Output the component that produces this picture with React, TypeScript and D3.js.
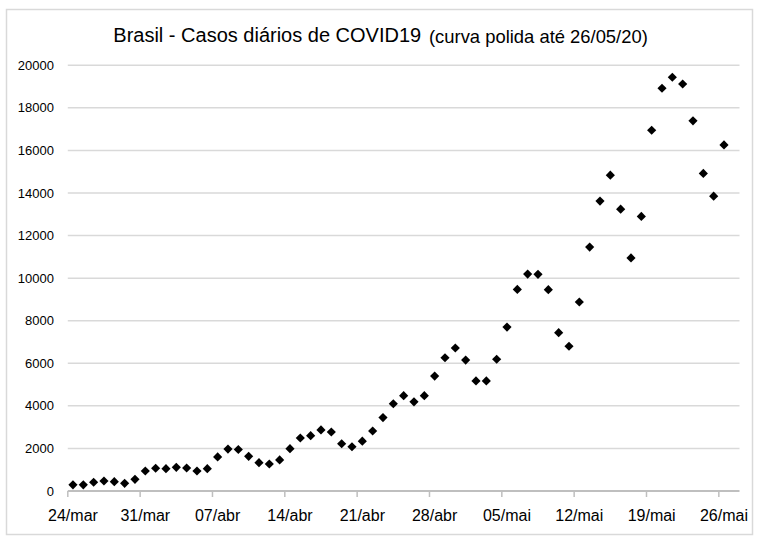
import React from "react";
import * as d3 from "d3";

const W = 761;
const H = 542;

// Daily new COVID19 cases in Brazil, 24/mar .. 26/mai (one value per day)
const startDate = new Date(2020, 2, 24);
const endDate = new Date(2020, 4, 28); // axis extends one empty day past 26/mai
const cases: number[] = [
  290, 290, 410, 470, 440, 360, 550,
  940, 1070, 1050, 1110, 1080, 940, 1050,
  1600, 1970, 1950, 1630, 1330, 1270, 1460,
  1990, 2490, 2600, 2870, 2770, 2220, 2080,
  2340, 2820, 3450, 4100, 4480, 4190, 4480,
  5400, 6260, 6720, 6150, 5170, 5170, 6190,
  7700, 9470, 10190, 10180, 9460, 7440, 6800,
  8880, 11460, 13620, 14840, 13240, 10950, 12900,
  16950, 18920, 19440, 19120, 17390, 14920, 13850,
  16260,
];
const xTickLabels = ["24/mar", "31/mar", "07/abr", "14/abr", "21/abr", "28/abr", "05/mai", "12/mai", "19/mai", "26/mai"];
const yTicks = [0, 2000, 4000, 6000, 8000, 10000, 12000, 14000, 16000, 18000, 20000];

export default function App() {
  const days = d3.timeDay.range(startDate, endDate);
  const x = d3
    .scaleBand<Date>()
    .domain(days)
    .range([67.8, 739.5])
    .paddingInner(0)
    .paddingOuter(0);
  const y = d3.scaleLinear().domain([0, 20000]).range([491, 65.3]);
  const bw = x.bandwidth();
  const diamond = d3.symbol().type(d3.symbolSquare).size(42)() as string;
  const tickDays = days.filter((_, i) => i % 7 === 0 && i < cases.length);

  return (
    <svg
      width={W}
      height={H}
      style={{ position: "absolute", left: 0, top: 0, background: "#fff" }}
      fontFamily="'Liberation Sans', Arial, sans-serif"
    >
      <rect x={0} y={0} width={W} height={H} fill="#fff" />
      <rect x={6.5} y={9.5} width={746} height={525} fill="#fff" stroke="#d9d9d9" strokeWidth={1.5} />
      <text x={113.3} y={42.3} fontSize={20} fill="#000">
        Brasil - Casos diários de COVID19
      </text>
      <text x={429} y={42.7} fontSize={18.4} fill="#000">
        (curva polida até 26/05/20)
      </text>
      {yTicks.map((t) => (
        <g key={t}>
          <line
            x1={67.8}
            x2={739.5}
            y1={y(t)}
            y2={y(t)}
            stroke={t === 0 ? "#bfbfbf" : "#d9d9d9"}
            strokeWidth={t === 0 ? 2 : 1.5}
          />
          <text x={54} y={y(t)} dy="0.35em" textAnchor="end" fontSize={13} fill="#000">
            {t}
          </text>
        </g>
      ))}
      {tickDays.map((d, i) => (
        <g key={i}>
          <line x1={x(d)!} x2={x(d)!} y1={491} y2={497} stroke="#bfbfbf" strokeWidth={1.5} />
          <text x={x(d)! + bw / 2} y={521} textAnchor="middle" fontSize={16} fill="#000">
            {xTickLabels[i]}
          </text>
        </g>
      ))}
      {cases.map((v, i) => (
        <path
          key={i}
          d={diamond}
          transform={`translate(${x(days[i])! + bw / 2},${y(v)}) rotate(45)`}
          fill="#000"
        />
      ))}
    </svg>
  );
}
